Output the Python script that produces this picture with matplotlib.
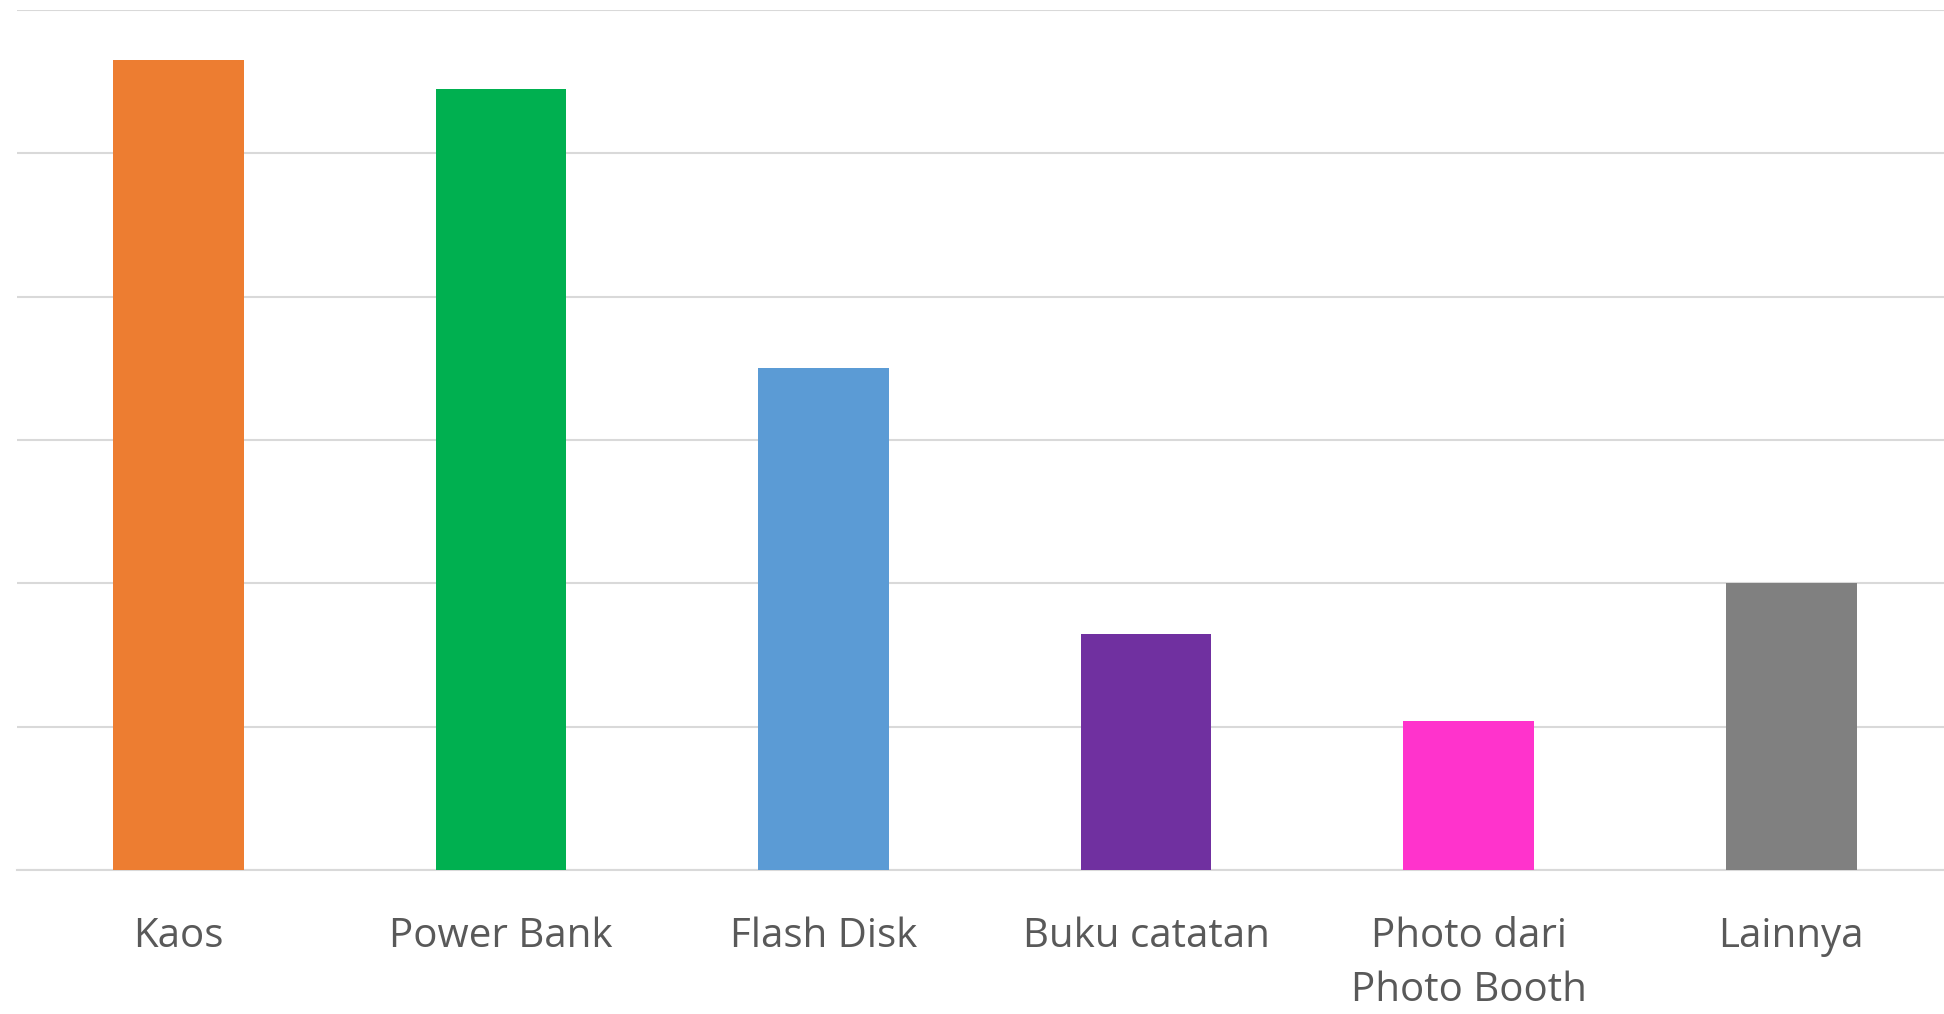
import matplotlib.pyplot as plt
import numpy as np

categories = ['Kaos', 'Power Bank', 'Flash Disk', 'Buku catatan', 'Photo dari\nPhoto Booth', 'Lainnya']
values = [56.5, 54.5, 35.0, 16.5, 10.4, 20.0]
bar_colors = ['#ED7D31', '#00B050', '#5B9BD5', '#7030A0', '#FF33CC', '#808080']
y_ticks = [0, 10, 20, 30, 40, 50, 60]

plt.rcParams['font.family'] = ['Open Sans', 'DejaVu Sans']

fig = plt.figure(figsize=(19.44, 10.14), dpi=100)
ax = fig.add_axes([17 / 1944, 1 - 870 / 1014, 1935.6 / 1944, 860 / 1014])

x = np.arange(len(categories))
ax.bar(x, values, width=0.405, color=bar_colors, zorder=3)

ax.set_xlim(-0.5, 5.5)
ax.set_ylim(0, 60)
ax.set_yticks(y_ticks)
ax.yaxis.grid(True, color='#d9d9d9', linewidth=1.5, zorder=0)
ax.tick_params(axis='y', left=False, labelleft=False)
ax.tick_params(axis='x', bottom=False, pad=30, labelsize=29, labelcolor='#595959')
ax.set_xticks(x)
ax.set_xticklabels(categories, linespacing=1.45)

for side in ['top', 'left', 'right']:
    ax.spines[side].set_visible(False)
ax.spines['bottom'].set_color('#d9d9d9')
ax.spines['bottom'].set_linewidth(1.5)

fig.savefig('out.png', dpi=100)
